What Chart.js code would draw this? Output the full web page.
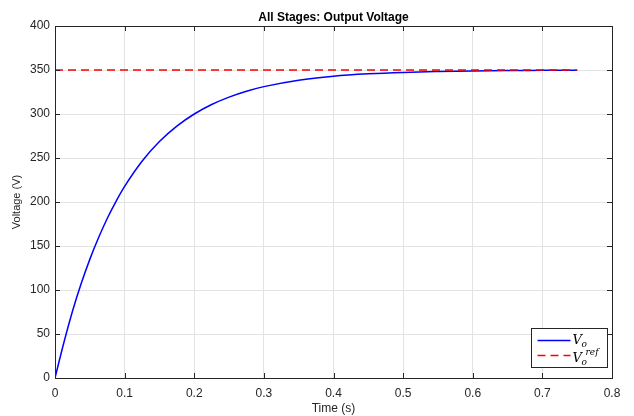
<!DOCTYPE html>
<html>
<head>
<meta charset="utf-8">
<script src="https://cdn.jsdelivr.net/npm/chart.js@4.4.0/dist/chart.umd.min.js"></script>
<style>
  html, body { margin: 0; padding: 0; background: #fff; }
  #wrap { width: 634px; height: 416px; }
</style>
</head>
<body>
<div id="wrap"><canvas id="vout"></canvas></div>
<script>
// Output voltage of all stages vs. time, with the reference level
const timeS = [0, 0.0125, 0.025, 0.0375, 0.05, 0.0625, 0.075, 0.0875, 0.1, 0.125, 0.15, 0.175, 0.2,
  0.225, 0.25, 0.275, 0.3, 0.35, 0.4, 0.45, 0.5, 0.55, 0.6, 0.65, 0.7, 0.75];
const voltageOut = [0, 39.5, 75.6, 107.0, 134.8, 159.3, 181.3, 200.5, 217.7, 246.3, 268.7, 286.2, 300.0,
  310.8, 319.2, 325.9, 331.1, 338.4, 342.9, 345.6, 347.3, 348.3, 349.0, 349.4, 349.6, 349.8];
const refTime = [0, 0.75];
const refVoltage = [350, 350];

const xTicks = [0, 0.1, 0.2, 0.3, 0.4, 0.5, 0.6, 0.7, 0.8];
const yTicks = [0, 50, 100, 150, 200, 250, 300, 350, 400];

const FONT = "'Liberation Sans', Arial, sans-serif";
const INK = '#262626';

// box, inward tick marks, title and legend in the usual MATLAB look
const matlabFrame = {
  id: 'matlabFrame',
  afterDraw(chart) {
    const { ctx, chartArea: a, scales } = chart;
    ctx.save();
    ctx.strokeStyle = INK;
    ctx.lineWidth = 1;
    ctx.strokeRect(Math.round(a.left) + 0.5, Math.round(a.top) + 0.5,
      Math.round(a.right - a.left), Math.round(a.bottom - a.top));

    const tl = 5;
    ctx.beginPath();
    xTicks.forEach(v => {
      const px = Math.round(scales.x.getPixelForValue(v)) + 0.5;
      ctx.moveTo(px, a.bottom); ctx.lineTo(px, a.bottom - tl);
      ctx.moveTo(px, a.top); ctx.lineTo(px, a.top + tl);
    });
    yTicks.forEach(v => {
      const py = Math.round(scales.y.getPixelForValue(v)) + 0.5;
      ctx.moveTo(a.left, py); ctx.lineTo(a.left + tl, py);
      ctx.moveTo(a.right, py); ctx.lineTo(a.right - tl, py);
    });
    ctx.stroke();

    // title
    ctx.fillStyle = '#000';
    ctx.font = 'bold 12px ' + FONT;
    ctx.textAlign = 'center';
    ctx.textBaseline = 'alphabetic';
    ctx.fillText('All Stages: Output Voltage', (a.left + a.right) / 2, 21);

    // legend
    const lx = 531.5, ly = 328.5, lw = 76, lh = 39;
    ctx.fillStyle = '#fff';
    ctx.fillRect(lx, ly, lw, lh);
    ctx.strokeStyle = INK;
    ctx.strokeRect(lx, ly, lw, lh);

    const ds = chart.data.datasets;
    const rows = [ly + 12, ly + 27];
    rows.forEach((ry, i) => {
      ctx.beginPath();
      ctx.strokeStyle = ds[i].borderColor;
      ctx.lineWidth = 1.5;
      ctx.setLineDash(ds[i].borderDash || []);
      ctx.moveTo(lx + 6, ry); ctx.lineTo(lx + 39, ry);
      ctx.stroke();
    });
    ctx.setLineDash([]);

    ctx.fillStyle = '#000';
    ctx.textAlign = 'left';
    ctx.font = "italic 13px 'DejaVu Serif', serif";
    ctx.fillText('V', lx + 41, rows[0] + 3);
    ctx.fillText('V', lx + 41, rows[1] + 6);
    ctx.font = "italic 9px 'DejaVu Serif', serif";
    ctx.fillText('o', lx + 50, rows[0] + 6);
    ctx.fillText('o', lx + 50, rows[1] + 9);
    ctx.fillText('ref', lx + 54, rows[1] - 1);
    ctx.restore();
  }
};

const ctx = document.getElementById('vout').getContext('2d');

new Chart(ctx, {
  type: 'line',
  data: {
    datasets: [
      {
        label: 'V_o',
        data: timeS.map((t, i) => ({ x: t, y: voltageOut[i] })),
        borderColor: '#0000ff',
        borderWidth: 1.5,
        pointRadius: 0,
        cubicInterpolationMode: 'monotone',
        fill: false,
        order: 1
      },
      {
        label: 'V_o^ref',
        data: refTime.map((t, i) => ({ x: t, y: refVoltage[i] })),
        borderColor: '#ff0000',
        borderWidth: 1.5,
        borderDash: [8, 5],
        pointRadius: 0,
        fill: false,
        order: 0
      }
    ]
  },
  options: {
    responsive: true,
    maintainAspectRatio: false,
    animation: false,
    layout: { padding: { left: 0, right: 22, top: 26, bottom: 0 } },
    plugins: {
      legend: { display: false },
      title: { display: false },
      tooltip: { enabled: false }
    },
    scales: {
      x: {
        type: 'linear',
        min: 0,
        max: 0.8,
        afterFit: s => { s.height = 38; },
        afterBuildTicks: s => { s.ticks = xTicks.map(v => ({ value: v })); },
        ticks: {
          color: INK,
          font: { family: FONT, size: 12 },
          padding: 8,
          maxRotation: 0,
          callback: v => String(+v.toFixed(1))
        },
        grid: { color: '#e3e3e3', drawTicks: false },
        border: { display: false },
        title: {
          display: true,
          text: 'Time (s)',
          color: INK,
          font: { family: FONT, size: 12 },
          padding: { top: 2, bottom: 0 }
        }
      },
      y: {
        type: 'linear',
        min: 0,
        max: 400,
        afterFit: s => { s.width = 55; },
        afterBuildTicks: s => { s.ticks = yTicks.map(v => ({ value: v })); },
        ticks: {
          color: INK,
          font: { family: FONT, size: 12 },
          padding: 5
        },
        grid: { color: '#e3e3e3', drawTicks: false },
        border: { display: false },
        title: {
          display: true,
          text: 'Voltage (V)',
          color: INK,
          font: { family: FONT, size: 11 },
          padding: { top: 10, bottom: 4 }
        }
      }
    }
  },
  plugins: [matlabFrame]
});
</script>
</body>
</html>
